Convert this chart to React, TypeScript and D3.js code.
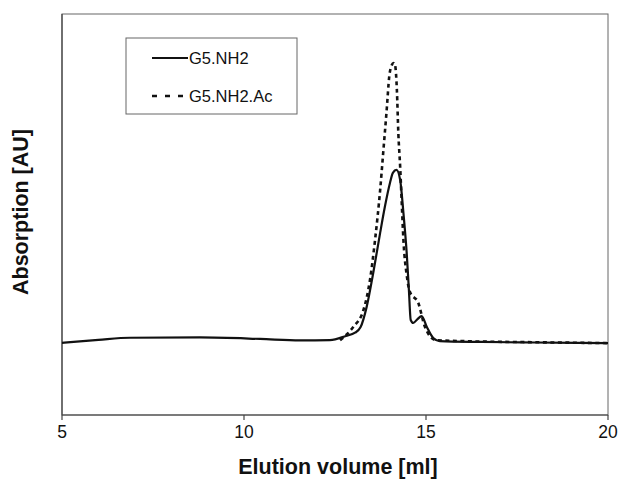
import React from "react";
import * as d3 from "d3";

const xTicks = [5, 10, 15, 20];
const solidX = [5.0, 6.0, 6.87, 8.79, 10.44, 11.54, 12.36, 12.8, 13.05, 13.2, 13.37, 13.55, 13.74, 13.87, 14.01, 14.09, 14.19, 14.29, 14.38, 14.47, 14.53, 14.58, 14.65, 14.76, 14.88, 15.02, 15.2, 15.38, 16.5, 18.0, 20.0];
const solidY = [-0.007, 0.003, 0.01, 0.011, 0.006, 0.001, 0.002, 0.016, 0.027, 0.045, 0.114, 0.228, 0.363, 0.451, 0.531, 0.565, 0.575, 0.541, 0.43, 0.295, 0.171, 0.07, 0.06, 0.072, 0.083, 0.047, 0.009, -0.001, -0.004, -0.006, -0.008];
const dashX = [12.64, 13.0, 13.28, 13.46, 13.6, 13.74, 13.83, 13.92, 13.99, 14.06, 14.11, 14.15, 14.2, 14.24, 14.29, 14.33, 14.38, 14.47, 14.56, 14.79, 14.97, 15.27, 15.93, 18.0, 20.0];
const dashY = [0.002, 0.046, 0.103, 0.204, 0.339, 0.507, 0.642, 0.777, 0.889, 0.928, 0.935, 0.928, 0.844, 0.699, 0.586, 0.474, 0.339, 0.221, 0.164, 0.127, 0.047, 0.002, -0.001, -0.005, -0.008];
const seriesNames = ["G5.NH2", "G5.NH2.Ac"];

export default function App() {
  const W = 621, H = 479;
  const left = 62, right = 608, top = 14, bottom = 415;
  const x = d3.scaleLinear().domain([5, 20]).range([left, right]);
  const y = d3.scaleLinear().domain([-0.25, 1.1]).range([bottom, top]);
  const line = d3.line<[number, number]>().x(d => x(d[0])).y(d => y(d[1])).curve(d3.curveMonotoneX);
  const solid = solidX.map((v, i) => [v, solidY[i]] as [number, number]);
  const dash = dashX.map((v, i) => [v, dashY[i]] as [number, number]);
  const font = "'Liberation Sans', Arial, sans-serif";
  return (
    <svg width={W} height={H} style={{ position: "absolute", left: 0, top: 0, background: "#fff" }}>
      <rect x={left} y={top} width={right - left} height={bottom - top} fill="none" stroke="#666" strokeWidth={1} />
      <line x1={left} y1={top} x2={left} y2={bottom} stroke="#444" strokeWidth={1.2} />
      <line x1={left} y1={bottom} x2={right} y2={bottom} stroke="#444" strokeWidth={1.2} />
      {xTicks.map(t => (
        <g key={t}>
          <line x1={x(t)} x2={x(t)} y1={bottom} y2={bottom + 5} stroke="#444" strokeWidth={1.2} />
          <text x={x(t)} y={437.5} textAnchor="middle" fontFamily={font} fontSize={17.5} fill="#111">{t}</text>
        </g>
      ))}
      <path d={line(dash) || ""} fill="none" stroke="#111" strokeWidth={2.6} strokeDasharray="4,3.5" />
      <path d={line(solid) || ""} fill="none" stroke="#111" strokeWidth={2.2} />
      <rect x={126} y={38} width={171} height={76} fill="#fff" stroke="#666" strokeWidth={1} />
      <line x1={152} x2={188} y1={58} y2={58} stroke="#111" strokeWidth={2.2} />
      <line x1={152} x2={184} y1={96} y2={96} stroke="#111" strokeWidth={2.4} strokeDasharray="5,8" />
      <text x={189} y={64} fontFamily={font} fontSize={16.5} fill="#111">{seriesNames[0]}</text>
      <text x={189} y={102} fontFamily={font} fontSize={16.5} fill="#111">{seriesNames[1]}</text>
      <text x={(left + right) / 2 + 3} y={474} textAnchor="middle" fontFamily={font} fontSize={21.5} fontWeight="bold" fill="#111">Elution volume [ml]</text>
      <text transform={`translate(28,212) rotate(-90)`} textAnchor="middle" fontFamily={font} fontSize={21.5} fontWeight="bold" fill="#111">Absorption [AU]</text>
    </svg>
  );
}
